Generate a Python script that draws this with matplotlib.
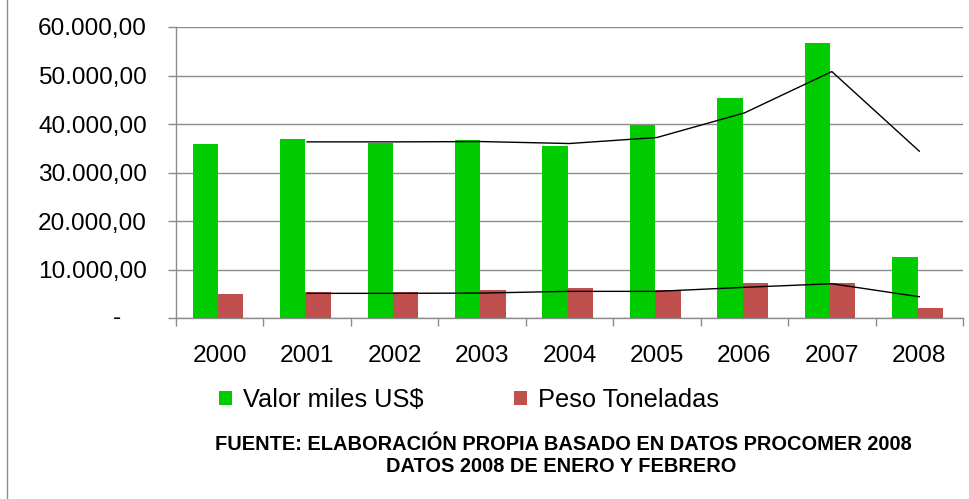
import numpy as np
import matplotlib
matplotlib.use("Agg")
import matplotlib.pyplot as plt
from matplotlib.lines import Line2D
from matplotlib.ticker import FuncFormatter

plt.rcParams['font.family'] = ['Liberation Sans', 'DejaVu Sans']

# Data
years = ["2000", "2001", "2002", "2003", "2004", "2005", "2006", "2007", "2008"]
valor = [36000, 36900, 36100, 36700, 35450, 39770, 45330, 56650, 12610]
peso = [5000, 5400, 5400, 5820, 6230, 5820, 7260, 7260, 2120]
# trend lines as drawn in the picture, from 2001 on
valor_trend = [36340, 36340, 36400, 36000, 37240, 42300, 50820, 34420]
peso_trend = [5140, 5140, 5200, 5550, 5550, 6380, 7120, 4440]

green = "#00CC00"
red = "#C0504D"
grid_col = "#8C8C8C"

fig = plt.figure(figsize=(9.70, 4.99), dpi=100)
ax = fig.add_axes([176 / 970, 1 - 318.3 / 499, 787 / 970, 291.3 / 499])

x = np.arange(len(years))
w = 0.29
ax.bar(x - 0.165, valor, w, color=green, label="Valor miles US$", zorder=3)
ax.bar(x + 0.125, peso, w, color=red, label="Peso Toneladas", zorder=3)
ax.plot(x[1:], valor_trend, color="black", lw=1, zorder=4)
ax.plot(x[1:], peso_trend, color="black", lw=1, zorder=4)

ax.set_xlim(-0.5, len(years) - 0.5)
ax.set_ylim(0, 60000)
ax.set_yticks(np.arange(0, 60001, 10000))
ax.yaxis.grid(True, color=grid_col, lw=1, zorder=0)
ax.set_axisbelow(True)


def fmt(v, pos):
    if v == 0:
        return ""
    s = f"{v:,.2f}"
    return s.replace(",", "X").replace(".", ",").replace("X", ".")


ax.yaxis.set_major_formatter(FuncFormatter(fmt))
ax.tick_params(axis="y", length=5.8, width=1, color=grid_col, pad=15, labelsize=17.6)
ax.annotate("-", xy=(0, 0), xycoords=("axes fraction", "data"), xytext=(-39.6, 0),
            textcoords="offset points", ha="right", va="center", fontsize=17.6)

# boundaries as major ticks, year labels on minor ticks
ax.set_xticks(np.arange(-0.5, len(years), 1.0))
ax.set_xticklabels([])
ax.set_xticks(x, years, minor=True)
ax.tick_params(axis="x", which="major", length=5.8, width=1, color=grid_col)
ax.tick_params(axis="x", which="minor", length=0, pad=19.5, labelsize=17.6)

for side in ["top", "right"]:
    ax.spines[side].set_visible(False)
for side in ["left", "bottom"]:
    ax.spines[side].set_color(grid_col)
    ax.spines[side].set_linewidth(1)

fig.legend(loc="center left", bbox_to_anchor=(219 / 970, 1 - 400 / 499), ncol=2,
           frameon=False, fontsize=18.3, handlelength=0.5, handleheight=0.5,
           handletextpad=0.45, columnspacing=3.55, borderpad=0, borderaxespad=0)

fig.text(563 / 970, 1 - 444 / 499, "FUENTE: ELABORACIÓN PROPIA BASADO EN DATOS PROCOMER 2008",
         ha="center", va="center", fontsize=14.4, fontweight="bold")
fig.text(561 / 970, 1 - 466.5 / 499, "DATOS 2008 DE ENERO Y FEBRERO",
         ha="center", va="center", fontsize=14.4, fontweight="bold")

fig.add_artist(Line2D([6.7 / 970, 6.7 / 970], [0, 1], transform=fig.transFigure,
                      color=grid_col, lw=1))

fig.savefig("out.png", dpi=100)
